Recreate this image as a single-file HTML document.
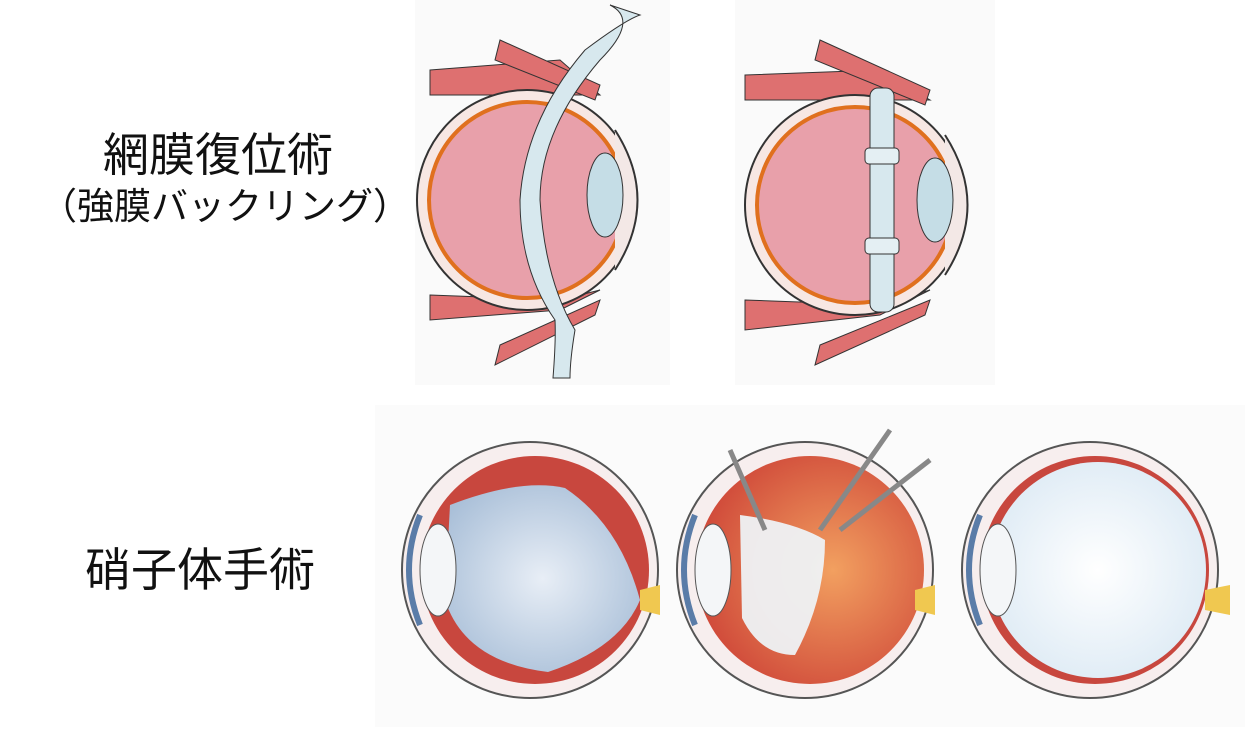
<!DOCTYPE html>
<html><head><meta charset="utf-8"><style>
body{margin:0;background:#fff;}
.t{position:absolute;font-family:"Liberation Sans","Noto Sans CJK JP",sans-serif;color:#111;white-space:nowrap;line-height:1;}
</style></head><body>
<div style="position:relative;width:1255px;height:752px;overflow:hidden">
<svg width="1255" height="752" style="position:absolute;left:0;top:0">
<defs>
<radialGradient id="vit" cx="50%" cy="50%" r="60%"><stop offset="0" stop-color="#e8eef6"/><stop offset="1" stop-color="#a9bfd8"/></radialGradient>
<radialGradient id="ret" cx="60%" cy="50%" r="60%"><stop offset="0" stop-color="#f2a060"/><stop offset="1" stop-color="#d04a3a"/></radialGradient>
<radialGradient id="clr" cx="50%" cy="50%" r="60%"><stop offset="0" stop-color="#ffffff"/><stop offset="1" stop-color="#dbe9f4"/></radialGradient>
</defs>
<rect x="415" y="0" width="255" height="385" fill="#fafafa"/>
<rect x="735" y="0" width="260" height="385" fill="#fafafa"/>
<rect x="375" y="405" width="870" height="322" fill="#fbfbfb"/>
<g>
<path d="M430 70 L560 60 L600 95 L560 95 L430 95Z" fill="#de7070" stroke="#333"/>
<path d="M500 40 L600 85 L595 100 L495 60Z" fill="#de7070" stroke="#333"/>
<path d="M430 295 L560 300 L600 290 L560 310 L430 320Z" fill="#de7070" stroke="#333"/>
<path d="M500 345 L600 300 L595 315 L495 365Z" fill="#de7070" stroke="#333"/>
<circle cx="527" cy="200" r="110" fill="#f7e7e3" stroke="#333" stroke-width="2"/>
<circle cx="527" cy="200" r="98" fill="#e8a0aa" stroke="#e0701e" stroke-width="4"/>
<path d="M615 130 Q660 200 615 270" fill="#f3e8e6" stroke="#333" stroke-width="2"/>
<ellipse cx="605" cy="195" rx="18" ry="42" fill="#c5dde6" stroke="#333"/>
<path d="M610 5 Q640 20 600 60 Q540 130 540 200 Q545 280 575 330 Q570 360 570 378 L553 378 Q556 340 555 320 Q520 270 520 200 Q525 120 585 50 Q625 20 640 15Z" fill="#d7e8ee" stroke="#333"/>
</g>
<g>
<path d="M745 75 L880 70 L930 100 L880 100 L745 100Z" fill="#de7070" stroke="#333"/>
<path d="M820 40 L930 90 L925 105 L815 60Z" fill="#de7070" stroke="#333"/>
<path d="M745 300 L880 305 L930 290 L880 315 L745 330Z" fill="#de7070" stroke="#333"/>
<path d="M820 345 L930 300 L925 315 L815 365Z" fill="#de7070" stroke="#333"/>
<circle cx="855" cy="205" r="110" fill="#f7e7e3" stroke="#333" stroke-width="2"/>
<circle cx="855" cy="205" r="98" fill="#e8a0aa" stroke="#e0701e" stroke-width="4"/>
<path d="M945 135 Q990 205 945 275" fill="#f3e8e6" stroke="#333" stroke-width="2"/>
<ellipse cx="935" cy="200" rx="18" ry="42" fill="#c5dde6" stroke="#333"/>
<rect x="870" y="88" width="24" height="224" rx="8" fill="#d7e8ee" stroke="#333"/>
<rect x="865" y="148" width="34" height="16" rx="4" fill="#e4eff3" stroke="#333"/>
<rect x="865" y="238" width="34" height="16" rx="4" fill="#e4eff3" stroke="#333"/>
</g>
<g>
<circle cx="530" cy="570" r="128" fill="#f7eeee" stroke="#555" stroke-width="2"/>
<circle cx="535" cy="570" r="114" fill="#c8473e"/>
<path d="M450 505 Q520 478 565 488 Q620 525 640 600 Q620 648 548 672 Q465 662 445 600Z" fill="url(#vit)"/>
<ellipse cx="438" cy="570" rx="18" ry="46" fill="#f4f6f8" stroke="#555"/>
<path d="M420 515 Q398 570 420 625" fill="none" stroke="#5a7ca8" stroke-width="6"/>
<path d="M640 590 L660 585 L660 615 L640 610Z" fill="#f0c850"/>
</g>
<g>
<circle cx="805" cy="570" r="128" fill="#f7eeee" stroke="#555" stroke-width="2"/>
<circle cx="810" cy="570" r="114" fill="url(#ret)"/>
<path d="M740 515 Q795 522 825 540 Q825 600 795 655 Q760 655 742 618Z" fill="#eef2f6" opacity="0.95"/>
<ellipse cx="713" cy="570" rx="18" ry="46" fill="#f4f6f8" stroke="#555"/>
<path d="M695 515 Q673 570 695 625" fill="none" stroke="#5a7ca8" stroke-width="6"/>
<path d="M915 590 L935 585 L935 615 L915 610Z" fill="#f0c850"/>
<line x1="730" y1="450" x2="765" y2="530" stroke="#888" stroke-width="5"/>
<line x1="890" y1="430" x2="820" y2="530" stroke="#888" stroke-width="5"/>
<line x1="930" y1="460" x2="840" y2="530" stroke="#888" stroke-width="5"/>
</g>
<g>
<circle cx="1090" cy="570" r="128" fill="#f7eeee" stroke="#555" stroke-width="2"/>
<circle cx="1095" cy="570" r="114" fill="#c8473e"/>
<circle cx="1098" cy="570" r="108" fill="url(#clr)"/>
<ellipse cx="998" cy="570" rx="18" ry="46" fill="#f4f6f8" stroke="#555"/>
<path d="M980 515 Q958 570 980 625" fill="none" stroke="#5a7ca8" stroke-width="6"/>
<path d="M1205 590 L1230 585 L1230 615 L1205 610Z" fill="#f0c850"/>
</g>
</svg>
<div class="t" style="left:103px;top:132px;font-size:46px">網膜復位術</div>
<div class="t" style="left:40px;top:188px;font-size:37px">（強膜バックリング）</div>
<div class="t" style="left:85px;top:547px;font-size:46px">硝子体手術</div>
</div>
</body></html>
